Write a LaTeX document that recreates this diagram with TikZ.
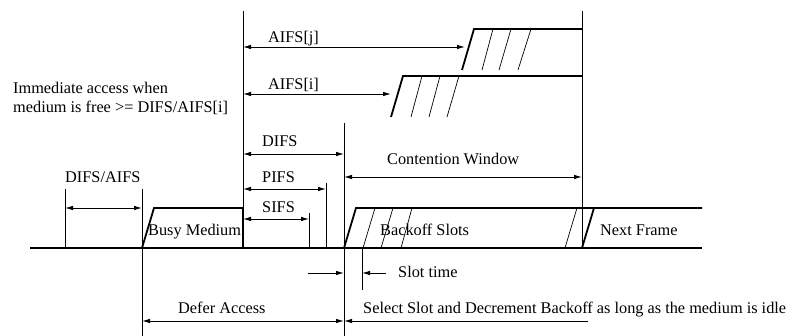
\documentclass[tikz,border=0pt]{standalone}
\usepackage{fontspec}
\setmainfont{Liberation Serif}
\usetikzlibrary{arrows.meta}
\begin{document}
\begin{tikzpicture}[x=1pt,y=-1pt,
  thinline/.style={line width=0.9pt},
  thickline/.style={line width=1.8pt,line join=miter},
  hatch/.style={line width=0.7pt},
  tip/.tip={Latex[length=8pt,width=4.5pt]},
  dim/.style={line width=0.9pt,tip-tip},
  dimr/.style={line width=0.9pt,-tip},
  diml/.style={line width=0.9pt,tip-},
  lbl/.style={inner sep=0pt,anchor=base west,font=\fontsize{16.3}{19}\selectfont}]
\useasboundingbox (0,0) rectangle (795,336);

% vertical marker coordinates
\coordinate (v1t) at (65,189);  \coordinate (v1b) at (65,248);
\coordinate (v2t) at (142,189); \coordinate (v2b) at (142,336);
\coordinate (v3t) at (243,11);  \coordinate (v3b) at (243,248);
\coordinate (v4t) at (309,213); \coordinate (v4b) at (309,248);
\coordinate (v5t) at (326,183); \coordinate (v5b) at (326,248);
\coordinate (v6t) at (344,123); \coordinate (v6b) at (344,336);
\coordinate (v7t) at (362,248); \coordinate (v7b) at (362,290);
\coordinate (v8t) at (582,11);  \coordinate (v8b) at (582,248);

\foreach \i in {1,...,8} {\draw[thinline] (v\i t) -- (v\i b);}

% baseline
\coordinate (bl0) at (30,248); \coordinate (bl1) at (702,248);
\draw[thickline] (bl0) -- (bl1);

% busy medium
\coordinate (bm0) at (142,248); \coordinate (bm1) at (154,208);
\coordinate (bm2) at (243,208); \coordinate (bm3) at (243,248);
\draw[thickline] (bm0) -- (bm1) -- (bm2) -- (bm3);

% backoff slots and next frame
\coordinate (bo0) at (344,248); \coordinate (bo1) at (356,208);
\coordinate (bo2) at (702,208);
\draw[thickline] (bo0) -- (bo1) -- (bo2);
\coordinate (nf0) at (582,248); \coordinate (nf1) at (594,208);
\draw[thickline] (nf0) -- (nf1);
\foreach \a/\b [count=\k] in {363/375,381/393,401/412,565/577} {
  \coordinate (hb\k a) at (\a,248); \coordinate (hb\k b) at (\b,208);
  \draw[hatch] (hb\k a) -- (hb\k b);
}

% AIFS[i] block
\coordinate (ai0) at (391,117); \coordinate (ai1) at (403,76);
\coordinate (ai2) at (582,76);
\draw[thickline] (ai0) -- (ai1) -- (ai2);
\foreach \a/\b [count=\k] in {411/422,429/440,447/459} {
  \coordinate (hi\k a) at (\a,117); \coordinate (hi\k b) at (\b,76);
  \draw[hatch] (hi\k a) -- (hi\k b);
}

% AIFS[j] block
\coordinate (aj0) at (462,70); \coordinate (aj1) at (474,29);
\coordinate (aj2) at (582,29);
\draw[thickline] (aj0) -- (aj1) -- (aj2);
\foreach \a/\b [count=\k] in {482/493,499/511,518/531} {
  \coordinate (hj\k a) at (\a,70); \coordinate (hj\k b) at (\b,29);
  \draw[hatch] (hj\k a) -- (hj\k b);
}

% dimension arrows
\coordinate (da0) at (65,208);  \coordinate (da1) at (142,208);
\draw[dim] (da0) -- (da1);
\coordinate (dj0) at (243,47);  \coordinate (dj1) at (465,47);
\draw[dim] (dj0) -- (dj1);
\coordinate (di0) at (243,94);  \coordinate (di1) at (391,94);
\draw[dim] (di0) -- (di1);
\coordinate (dd0) at (243,154); \coordinate (dd1) at (344,154);
\draw[dim] (dd0) -- (dd1);
\coordinate (dp0) at (243,189); \coordinate (dp1) at (326,189);
\draw[dim] (dp0) -- (dp1);
\coordinate (ds0) at (243,219); \coordinate (ds1) at (309,219);
\draw[dim] (ds0) -- (ds1);
\coordinate (dc0) at (344,177); \coordinate (dc1) at (582,177);
\draw[dim] (dc0) -- (dc1);
\coordinate (df0) at (142,321); \coordinate (df1) at (344,321);
\draw[dim] (df0) -- (df1);
\coordinate (dl0) at (344,321); \coordinate (dl1) at (588,321);
\draw[diml] (dl0) -- (dl1);
% slot time
\coordinate (st0) at (308,273); \coordinate (st1) at (344,273);
\draw[dimr] (st0) -- (st1);
\coordinate (st2) at (386,273); \coordinate (st3) at (362,273);
\draw[dimr] (st2) -- (st3);

% labels
\node[lbl] (t1) at (13,94) {Immediate access when};
\node[lbl] (t2) at (13,113) {medium is free >= DIFS/AIFS[i]};
\node[lbl] (taj) at (268,43) {AIFS[j]};
\node[lbl] (tai) at (268,90) {AIFS[i]};
\node[lbl] (tdifs) at (262,147) {DIFS};
\node[lbl] (tpifs) at (262,183) {PIFS};
\node[lbl] (tsifs) at (262,213) {SIFS};
\node[lbl] (tda) at (65,183) {DIFS/AIFS};
\node[lbl] (tbm) at (148,236) {Busy Medium};
\node[lbl] (tbo) at (380,236) {Backoff Slots};
\node[lbl] (tnf) at (600,236) {Next Frame};
\node[lbl] (tcw) at (387,165) {Contention Window};
\node[lbl] (tst) at (398,278) {Slot time};
\node[lbl] (tdf) at (178,314) {Defer Access};
\node[lbl] (tsel) at (363,314) {Select Slot and Decrement Backoff as long as the medium is idle};
\end{tikzpicture}
\end{document}
